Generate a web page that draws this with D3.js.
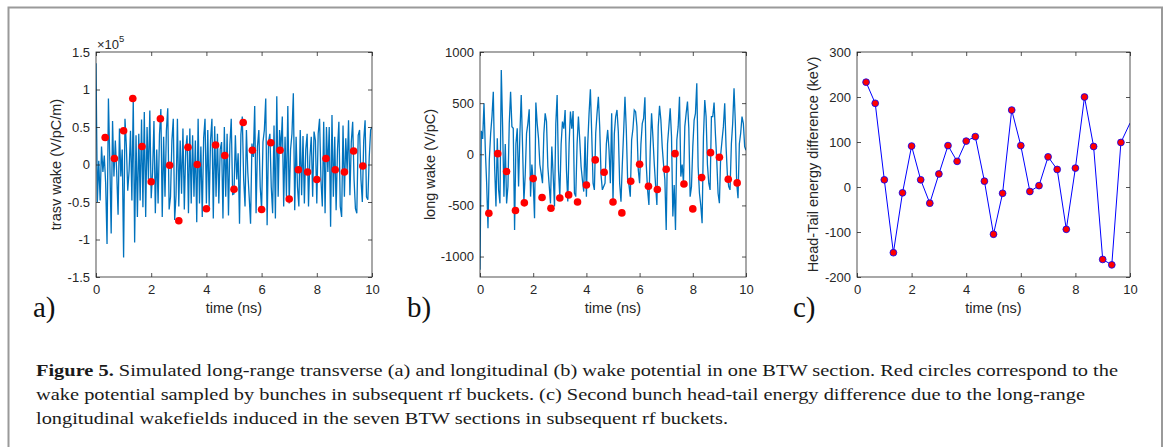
<!DOCTYPE html>
<html><head><meta charset="utf-8">
<script src="https://cdn.jsdelivr.net/npm/d3@7"></script>
<style>
body{margin:0;background:#fff}
.sans{font-family:"Liberation Sans",Arial,sans-serif}
.serif{font-family:"Liberation Serif","Times New Roman",serif}
</style>
</head><body>
<svg id="fig" width="1171" height="447"></svg>
<script>
// ---------------- DATA ----------------
const timeTicks = [0, 2, 4, 6, 8, 10];
const timeTickLabels = ["0", "2", "4", "6", "8", "10"];
const sampleStep = 0.05; // ns between wake samples

// transverse wake (x1e5 V/pC/m), sampled every 0.05 ns from 0 to 10 ns
const trasvWake = [
  1.35, -0.50, 0.05, -0.48, 0.24, -0.1, 0.12, -0.25, -1.06, 0.88,
  0.05, -0.92, 0.58, -0.16, 0.32, -0.1, -0.67, 0.48, -0.16, 0.2,
  -1.24, 0.61, 0.25, -0.35, -0.08, 0.45, -0.48, 0.88, -1.04, 0.39,
  -0.70, 0.41, -0.48, 0.60, -0.57, 0.70, -0.70, 0.50, -0.2, 0.72,
  -0.45, -0.1, 0.58, -0.65, 0.2, -0.52, 0.4, 0.74, -0.70, 0.37,
  -0.43, 0.45, 0.75, -0.6, -0.43, 0.32, 0.61, -0.74, -0.41, 0.61,
  -0.56, 0.32, -0.39, 0.48, -0.6, 0.19, 0.39, -0.65, 0.48, -0.52,
  0.39, -0.43, 0.32, -0.77, 0.61, -0.52, 0.24, -0.7, 0.35, 0.61,
  -0.52, 0.46, -0.56, 0.32, 0.61, -0.72, 0.51, -0.43, 0.41, -0.52,
  0.2, 0.3, -0.72, 0.5, -0.43, 0.41, -0.68, 0.26, 0.61, -0.4,
  -0.39, 0.39, -0.2, 0.15, -0.79, 0.4, 0.64, -0.2, -0.56, 0.46,
  -0.1, -0.43, -0.79, 0.28, 0.1, 0.78, -0.65, 0.24, 0.46, -0.3,
  -0.6, 0.3, 0.46, 0.88, -0.81, 0.3, 0.41, -0.3, -0.65, 0.52,
  -0.72, 0.91, -0.43, 0.46, 0.2, 0.64, -0.56, 0.37, -0.43, 0.78,
  -0.52, 0.2, 0.41, 0.95, -0.61, 0.37, -0.3, -0.56, 0.46, -0.41,
  0.38, -0.52, 0.2, 0.41, -0.56, 0.1, 0.37, -0.43, 0.44, 0.32,
  -0.52, 0.41, 0.61, -0.2, -0.56, 0.57, -0.65, 0.5, -0.1, 0.5,
  -0.83, 0.66, -0.43, 0.37, -0.61, 0.2, 0.57, -0.56, -0.7, 0.52,
  -0.43, 0.35, -0.1, 0.59, -0.41, 0.3, 0.57, -0.2, -0.59, -0.65,
  0.39, 0.46, -0.2, -0.5, 0.32, 0.59, -0.43, -0.47, 0.1, 0.46,
  0.5
];

// longitudinal wake (V/pC), sampled every 0.05 ns from 0 to 10 ns
const longWake = [
  -1130, 230, 150, 498, 42, -283, -723, -55, 200, 368,
  612, -120, -511, 156, -350, -480, 824, 270, -414, 100,
  -480, -316, 300, 612, 270, 254, -740, 100, 254, -316,
  200, 580, 75, -462, -200, 205, 300, 440, -414, -100,
  -267, -625, 505, 300, 156, -100, -186, -283, 200, 400,
  319, -120, -300, -480, 75, -200, -511, 300, 580, -153,
  -414, 100, 319, 250, 433, -153, -462, 100, 417, 250,
  423, -381, -414, 100, 368, 140, -120, -250, -365, 173,
  -414, 100, 400, 635, 200, -283, -348, 205, 400, 563,
  270, -200, -348, -316, -283, 100, 238, 42, -283, 400,
  -460, 200, 367, 433, 221, -283, -463, -100, 221, 563,
  238, -250, -300, -414, 140, 250, 433, 416, 270, -153,
  -283, 100, 300, 350, 557, -100, -348, -495, 42, 400,
  170, -88, -300, -495, 270, 475, 335, 75, -100, -250,
  -740, 100, 270, 450, 170, -609, -300, -740, 140, 270,
  563, -218, -100, -283, 270, 400, 515, 254, -414, -316,
  75, 335, 400, 694, -120, -381, -500, -674, 170, 530,
  368, -100, -283, -348, 368, 368, 505, 200, -55, -381,
  -479, 0, 140, 270, 498, 75, -200, -316, -348, 100,
  303, 645, 303, -283, -430, 100, 205, 368, 303, 75,
  40
];

// bunch arrival times (ns), subsequent rf buckets
const bunchTimes = [0.333, 0.667, 1.0, 1.333, 1.667, 2.0, 2.333, 2.667, 3.0, 3.333,
  3.667, 4.0, 4.333, 4.667, 5.0, 5.333, 5.667, 6.0, 6.333, 6.667,
  7.0, 7.333, 7.667, 8.0, 8.333, 8.667, 9.0, 9.333, 9.667];
const trasvSampled = [0.36, 0.08, 0.45, 0.88, 0.24, -0.23, 0.61, -0.01, -0.75, 0.23,
  0.0, -0.59, 0.26, 0.12, -0.33, 0.56, 0.19, -0.60, 0.29, 0.19,
  -0.46, -0.07, -0.10, -0.20, 0.08, -0.07, -0.10, 0.18, -0.02];
const longSampled = [-576, 6, -169, -550, -475, -238, -423, -528, -427, -397,
  -466, -300, -55, -176, -466, -573, -264, -98, -313, -345,
  -147, 6, -290, -534, -228, 16, -29, -244, -280];
const headTailDiff = [233, 186, 16, -146, -13, 91, 16, -36, 29, 92,
  57, 102, 112, 13, -105, -14, 171, 92, -10, 3,
  67, 39, -94, 42, 200, 90, -161, -173, 99];
const headTailEnd = { t: 10, v: 142 };

const trasvTicks = [-1.5, -1, -0.5, 0, 0.5, 1, 1.5];
const trasvTickLabels = ["-1.5", "-1", "-0.5", "0", "0.5", "1", "1.5"];
const longTicks = [-1000, -500, 0, 500, 1000];
const longTickLabels = ["-1000", "-500", "0", "500", "1000"];
const htTicks = [-200, -100, 0, 100, 200, 300];
const htTickLabels = ["-200", "-100", "0", "100", "200", "300"];

const captionLines = [
  ["Figure 5.", " Simulated long-range transverse (a) and longitudinal (b) wake potential in one BTW section. Red circles correspond to the"],
  ["", "wake potential sampled by bunches in subsequent rf buckets. (c) Second bunch head-tail energy difference due to the long-range"],
  ["", "longitudinal wakefields induced in the seven BTW sections in subsequent rf buckets."]
];

// ---------------- DRAW ----------------
const svg = d3.select("#fig");
const AX = "#262626";

svg.append("rect").attr("x", 0).attr("y", 0).attr("width", 1171).attr("height", 447).attr("fill", "#fff");
svg.append("rect").attr("x", 8.5).attr("y", 7.5).attr("width", 1153.5).attr("height", 600)
  .attr("fill", "none").attr("stroke", "#9a9a9a").attr("stroke-width", 2);

let clipId = 0;
function panel(cfg) {
  const x = d3.scaleLinear().domain([0, 10]).range([cfg.left, cfg.right]);
  const y = d3.scaleLinear().domain(cfg.yDomain).range([cfg.bottom, cfg.top]);
  const g = svg.append("g");
  const id = "clip" + (clipId++);
  svg.append("clipPath").attr("id", id).append("rect")
    .attr("x", cfg.left).attr("y", cfg.top).attr("width", cfg.right - cfg.left).attr("height", cfg.bottom - cfg.top);

  const plot = g.append("g").attr("clip-path", `url(#${id})`);
  cfg.draw(plot, x, y);

  const tickStyle = sel => {
    sel.attr("font-family", null).attr("font-size", null);
    sel.select(".domain").remove();
    sel.selectAll(".tick line").attr("stroke", AX).attr("stroke-width", 0.8);
    sel.selectAll(".tick text").attr("fill", AX).attr("class", "sans").style("font-size", "13px");
  };
  g.append("g").attr("transform", `translate(0,${cfg.bottom})`)
    .call(d3.axisBottom(x).tickValues(timeTicks).tickFormat((d, i) => timeTickLabels[i]).tickSizeInner(-4).tickSizeOuter(0).tickPadding(8))
    .call(tickStyle);
  g.append("g").attr("transform", `translate(0,${cfg.top})`)
    .call(d3.axisTop(x).tickValues(timeTicks).tickFormat("").tickSizeInner(-4).tickSizeOuter(0))
    .call(tickStyle);
  g.append("g").attr("transform", `translate(${cfg.left},0)`)
    .call(d3.axisLeft(y).tickValues(cfg.yTicks).tickFormat((d, i) => cfg.yTickLabels[i]).tickSizeInner(-4).tickSizeOuter(0).tickPadding(6))
    .call(tickStyle);
  g.append("g").attr("transform", `translate(${cfg.right},0)`)
    .call(d3.axisRight(y).tickValues(cfg.yTicks).tickFormat("").tickSizeInner(-4).tickSizeOuter(0))
    .call(tickStyle);
  g.append("rect").attr("x", cfg.left).attr("y", cfg.top).attr("width", cfg.right - cfg.left).attr("height", cfg.bottom - cfg.top)
    .attr("fill", "none").attr("stroke", AX).attr("stroke-width", 0.8);

  g.append("text").attr("x", (cfg.left + cfg.right) / 2).attr("y", 313).attr("text-anchor", "middle")
    .attr("class", "sans").style("font-size", "14.5px").attr("fill", AX).text("time (ns)");
  g.append("text").attr("transform", `translate(${cfg.yLabelX},${(cfg.top + cfg.bottom) / 2}) rotate(-90)`)
    .attr("text-anchor", "middle").attr("class", "sans").style("font-size", "14.5px").attr("fill", AX).text(cfg.yLabel);
  g.append("text").attr("x", cfg.letterX).attr("y", 317).attr("class", "serif").style("font-size", "29px")
    .attr("fill", "#111").text(cfg.letter);
  return { g, x, y };
}

const sampleT = i => i * sampleStep;

const pa = panel({
  left: 96, right: 372, top: 52, bottom: 277, yDomain: [-1.5, 1.5],
  yTicks: trasvTicks, yTickLabels: trasvTickLabels, yLabel: "trasv wake (V/pC/m)", yLabelX: 61,
  letter: "a)", letterX: 33,
  draw: (p, x, y) => {
    p.append("path").datum(trasvWake)
      .attr("d", d3.line().x((d, i) => x(sampleT(i))).y(d => y(d)))
      .attr("fill", "none").attr("stroke", "#0072BD").attr("stroke-width", 1.3);
    p.selectAll("circle").data(bunchTimes).join("circle")
      .attr("cx", d => x(d)).attr("cy", (d, i) => y(trasvSampled[i])).attr("r", 3.8).attr("fill", "#ff0000");
  }
});
// x10^5 exponent label
pa.g.append("text").attr("x", 97).attr("y", 48.5).attr("class", "sans").style("font-size", "13px").attr("fill", AX)
  .text("\u00d710").append("tspan").attr("dy", -7).style("font-size", "9.5px").text("5");

panel({
  left: 480, right: 746, top: 52, bottom: 277, yDomain: [-1200, 1000],
  yTicks: longTicks, yTickLabels: longTickLabels, yLabel: "long wake (V/pC)", yLabelX: 435,
  letter: "b)", letterX: 407,
  draw: (p, x, y) => {
    p.append("path").datum(longWake)
      .attr("d", d3.line().x((d, i) => x(sampleT(i))).y(d => y(d)))
      .attr("fill", "none").attr("stroke", "#0072BD").attr("stroke-width", 1.3);
    p.selectAll("circle").data(bunchTimes).join("circle")
      .attr("cx", d => x(d)).attr("cy", (d, i) => y(longSampled[i])).attr("r", 3.8).attr("fill", "#ff0000");
  }
});

panel({
  left: 857, right: 1130, top: 52, bottom: 277, yDomain: [-200, 300],
  yTicks: htTicks, yTickLabels: htTickLabels, yLabel: "Head-Tail energy difference (keV)", yLabelX: 818,
  letter: "c)", letterX: 793,
  draw: (p, x, y) => {
    const pts = bunchTimes.map((t, i) => [t, headTailDiff[i]]).concat([[headTailEnd.t, headTailEnd.v]]);
    p.append("path").datum(pts)
      .attr("d", d3.line().x(d => x(d[0])).y(d => y(d[1])))
      .attr("fill", "none").attr("stroke", "#0000ff").attr("stroke-width", 1);
    p.selectAll("circle").data(bunchTimes).join("circle")
      .attr("cx", d => x(d)).attr("cy", (d, i) => y(headTailDiff[i])).attr("r", 3.4)
      .attr("fill", "#ff0000").attr("stroke", "#0000ff").attr("stroke-width", 0.8);
  }
});

// caption
const capBase = [376, 400, 424];
const capWidth = [1082, 1049, 692];
captionLines.forEach((ln, i) => {
  const t = svg.append("text").attr("x", 36).attr("y", capBase[i]).attr("class", "serif")
    .style("font-size", "17.5px").attr("fill", "#1a1a1a")
    .attr("textLength", capWidth[i]).attr("lengthAdjust", "spacingAndGlyphs");
  if (ln[0]) t.append("tspan").style("font-weight", "bold").text(ln[0]);
  t.append("tspan").text(ln[1]);
});
</script>
</body></html>
